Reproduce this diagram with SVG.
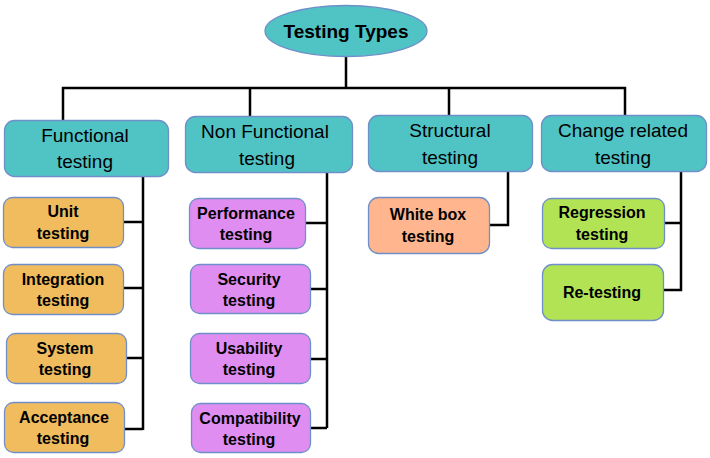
<svg xmlns="http://www.w3.org/2000/svg" width="710" height="458" viewBox="0 0 710 458">
<style>
text{font-family:"Comic Sans MS","Liberation Sans",Arial,sans-serif;fill:#000;text-anchor:middle}
.h{font-size:19px}
.c{font-size:16px;font-weight:bold}
.t{font-size:19px;font-weight:bold}
.box{stroke:#6F8FC9;stroke-width:1.3}
.teal{fill:#50C3C5}
.org{fill:#F0BC5E}
.pur{fill:#E08DF2}
.sal{fill:#FFB68E}
.grn{fill:#B2E355}
.ln{fill:none;stroke:#000;stroke-width:2.5}
</style>
<rect width="710" height="458" fill="#fff"/>
<g id="connectors">
<path class="ln" d="M346,57 V88 M63,120 V88 H625 V116 M250,88 V116 M449,88 V115"/>
<path class="ln" d="M143,176 V430 M123,222 H143 M123,288 H143 M126,358 H143 M124,429 H143"/>
<path class="ln" d="M327,172 V428 M305,223 H327 M310,289 H327 M310,359 H327 M310,428 H327"/>
<path class="ln" d="M508,171 V225 H489"/>
<path class="ln" d="M681,171 V290 H663 M664,223 H681"/>
</g>
<g id="root">
<ellipse class="box teal" cx="346" cy="31" rx="81" ry="25.5"/>
<text class="t" x="346" y="38">Testing Types</text>
</g>
<g id="functional">
<rect class="box teal" x="4.5" y="120.5" width="164" height="56" rx="10"/>
<text class="h" x="85" y="142">Functional</text>
<text class="h" x="85" y="168">testing</text>
</g>
<g id="nonfunctional">
<rect class="box teal" x="185.5" y="116.5" width="167" height="56" rx="10"/>
<text class="h" x="265" y="138">Non Functional</text>
<text class="h" x="267" y="165">testing</text>
</g>
<g id="structural">
<rect class="box teal" x="368.5" y="115.5" width="164" height="56" rx="10"/>
<text class="h" x="450" y="137">Structural</text>
<text class="h" x="450" y="164">testing</text>
</g>
<g id="change">
<rect class="box teal" x="541.5" y="115.5" width="165" height="56" rx="10"/>
<text class="h" x="623" y="137">Change related</text>
<text class="h" x="623" y="164">testing</text>
</g>
<g id="unit">
<rect class="box org" x="3.5" y="197.5" width="120" height="50" rx="9"/>
<text class="c" x="63" y="217">Unit</text>
<text class="c" x="63" y="239">testing</text>
</g>
<g id="integration">
<rect class="box org" x="3.5" y="264.5" width="120" height="50" rx="9"/>
<text class="c" x="63" y="285">Integration</text>
<text class="c" x="63" y="306">testing</text>
</g>
<g id="system">
<rect class="box org" x="6.5" y="333.5" width="120" height="50" rx="9"/>
<text class="c" x="65" y="354">System</text>
<text class="c" x="65" y="375">testing</text>
</g>
<g id="acceptance">
<rect class="box org" x="4.5" y="402.5" width="120" height="50" rx="9"/>
<text class="c" x="64" y="423">Acceptance</text>
<text class="c" x="63" y="444">testing</text>
</g>
<g id="performance">
<rect class="box pur" x="189.5" y="198.5" width="116" height="50" rx="9"/>
<text class="c" x="246" y="219">Performance</text>
<text class="c" x="246" y="240">testing</text>
</g>
<g id="security">
<rect class="box pur" x="190.5" y="264.5" width="120" height="49" rx="9"/>
<text class="c" x="249" y="285">Security</text>
<text class="c" x="249" y="306">testing</text>
</g>
<g id="usability">
<rect class="box pur" x="190.5" y="333.5" width="120" height="50" rx="9"/>
<text class="c" x="249" y="354">Usability</text>
<text class="c" x="249" y="375">testing</text>
</g>
<g id="compatibility">
<rect class="box pur" x="191.5" y="403.5" width="119" height="49" rx="9"/>
<text class="c" x="250" y="424">Compatibility</text>
<text class="c" x="249" y="445">testing</text>
</g>
<g id="whitebox">
<rect class="box sal" x="368.5" y="197.5" width="121" height="56" rx="10"/>
<text class="c" x="428" y="220">White box</text>
<text class="c" x="428" y="242">testing</text>
</g>
<g id="regression">
<rect class="box grn" x="542.5" y="198.5" width="122" height="50" rx="9"/>
<text class="c" x="602" y="218">Regression</text>
<text class="c" x="602" y="240">testing</text>
</g>
<g id="retesting">
<rect class="box grn" x="542.5" y="264.5" width="121" height="56" rx="10"/>
<text class="c" x="602" y="298">Re-testing</text>
</g>
</svg>
